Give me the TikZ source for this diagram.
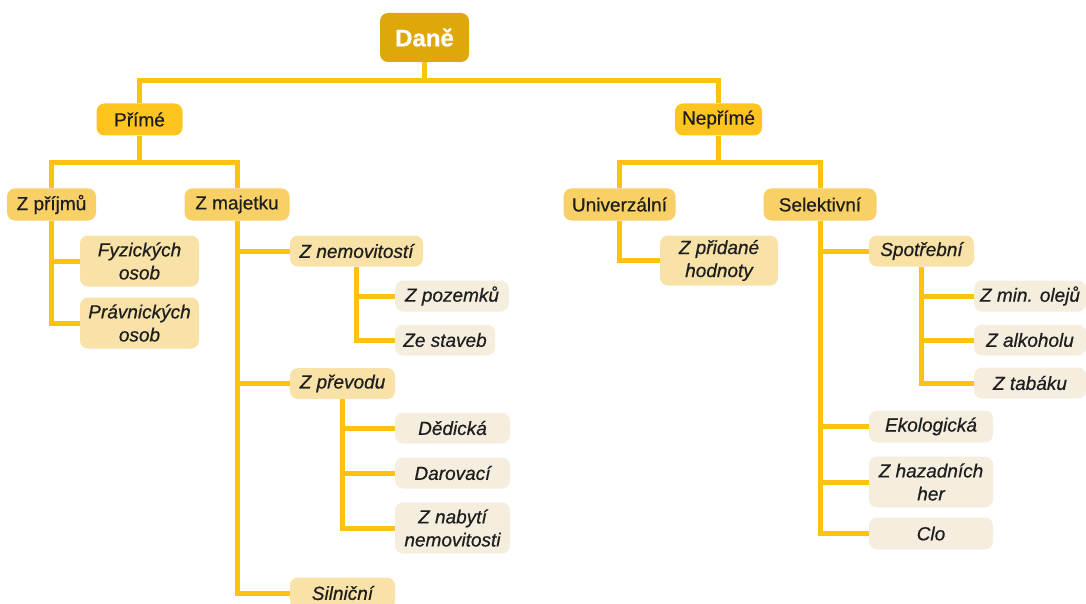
\documentclass[tikz,border=0pt]{standalone}
\usepackage{fontspec}
\setmainfont{Liberation Sans}[FakeBold=0.6]
\usetikzlibrary{positioning,calc}
\definecolor{linegold}{HTML}{FFC20E}
\definecolor{rootfill}{HTML}{DEA80B}
\definecolor{onefill}{HTML}{FFC51E}
\definecolor{twofill}{HTML}{F9D065}
\definecolor{threefill}{HTML}{F8E2A8}
\definecolor{fourfill}{HTML}{F5EEDF}
\definecolor{textdark}{HTML}{1E1E1E}
\begin{document}
\begin{tikzpicture}[x=1pt, y=-1pt,
  conn/.style={draw=linegold, line width=5pt},
  base/.style={rounded corners=8pt, align=center, inner sep=0pt, text=textdark, font=\fontsize{19}{23}\selectfont},
  root/.style={base, fill=rootfill, minimum width=89pt, minimum height=49pt, text=white, font=\fontsize{24}{28}\selectfont\bfseries},
  lvlone/.style={base, fill=onefill, minimum height=32pt},
  lvltwo/.style={base, fill=twofill, minimum height=32pt},
  lvlthree/.style={base, fill=threefill, minimum height=31pt, font=\fontsize{19}{23}\selectfont\itshape},
  lvlfour/.style={base, fill=fourfill, minimum height=31pt, font=\fontsize{19}{23}\selectfont\itshape}]
\useasboundingbox (0,0) rectangle (1086,604);
% root and first level
\node[root] (dane) at (424.5,37.5) {Daně};
\node[lvlone, minimum width=86pt] (prime) at (139.5,119.5) {Přímé};
\node[lvlone, minimum width=87pt] (neprime) at (718.5,119.5) {Nepřímé};
% second level
\node[lvltwo, minimum width=89pt] (zprijmu) at (51.5,204.5) {Z příjmů};
\node[lvltwo, minimum width=105pt] (zmajetku) at (237,204.5) {Z majetku};
\node[lvltwo, minimum width=112pt] (univ) at (619.5,204.5) {Univerzální};
\node[lvltwo, minimum width=113pt] (selekt) at (820,204.5) {Selektivní};
% direct taxes
\node[lvlthree, minimum width=119pt, minimum height=51pt] (fyzicke) at (139.5,261) {Fyzických\\osob};
\node[lvlthree, minimum width=119pt, minimum height=51pt] (pravnicke) at (139.5,323) {Právnických\\osob};
\node[lvlthree, minimum width=133pt] (znemov) at (356.5,251) {Z nemovitostí};
\node[lvlfour, minimum width=114pt] (zpozemku) at (452,296) {Z pozemků};
\node[lvlfour, minimum width=100pt] (zestaveb) at (445,340) {Ze staveb};
\node[lvlthree, minimum width=105pt] (zprevodu) at (342.5,383.5) {Z převodu};
\node[lvlfour, minimum width=115pt] (dedicka) at (452.5,428) {Dědická};
\node[lvlfour, minimum width=115pt] (darovaci) at (452.5,473) {Darovací};
\node[lvlfour, minimum width=115pt, minimum height=51pt] (znabyti) at (452.5,528) {Z nabytí\\nemovitosti};
\node[lvlthree, minimum width=105pt] (silnicni) at (342.5,593) {Silniční};
% indirect taxes
\node[lvlthree, minimum width=118pt, minimum height=50pt] (zpridane) at (719,260.5) {Z přidané\\hodnoty};
\node[lvlthree, minimum width=105pt] (spotrebni) at (921.5,251) {Spotřební};
\node[lvlfour, minimum width=112pt] (zminoleju) at (1030,296) {Z min. olejů};
\node[lvlfour, minimum width=112pt] (zalkoholu) at (1030,340) {Z alkoholu};
\node[lvlfour, minimum width=112pt] (ztabaku) at (1030,383) {Z tabáku};
\node[lvlfour, minimum width=124pt, minimum height=32pt] (ekolog) at (931,426.5) {Ekologická};
\node[lvlfour, minimum width=124pt, minimum height=51pt] (zhazard) at (931,482) {Z hazadních\\her};
\node[lvlfour, minimum width=124pt, minimum height=32pt] (clo) at (931,533.5) {Clo};
% connectors
\draw[conn] (dane.south) -- ++(0,18) -| (prime.north);
\draw[conn] (dane.south) -- ++(0,18) -| (neprime.north);
\draw[conn] (prime.south) -- ++(0,27) -| (zprijmu.north);
\draw[conn] (prime.south) -- ++(0,27) -| (zmajetku.north);
\draw[conn] (neprime.south) -- ++(0,27) -| (univ.north);
\draw[conn] (neprime.south) -- ++(0,27) -| (selekt.north);
\draw[conn] (zprijmu.south) |- (fyzicke.west);
\draw[conn] (zprijmu.south) |- (pravnicke.west);
\draw[conn] (zmajetku.south) |- (znemov.west);
\draw[conn] (zmajetku.south) |- (zprevodu.west);
\draw[conn] (zmajetku.south) |- (silnicni.west);
\draw[conn] (znemov.south) |- (zpozemku.west);
\draw[conn] (znemov.south) |- (zestaveb.west);
\draw[conn] (zprevodu.south) |- (dedicka.west);
\draw[conn] (zprevodu.south) |- (darovaci.west);
\draw[conn] (zprevodu.south) |- (znabyti.west);
\draw[conn] (univ.south) |- (zpridane.west);
\draw[conn] (selekt.south) |- (spotrebni.west);
\draw[conn] (selekt.south) |- (ekolog.west);
\draw[conn] (selekt.south) |- (zhazard.west);
\draw[conn] (selekt.south) |- (clo.west);
\draw[conn] (spotrebni.south) |- (zminoleju.west);
\draw[conn] (spotrebni.south) |- (zalkoholu.west);
\draw[conn] (spotrebni.south) |- (ztabaku.west);
\end{tikzpicture}
\end{document}
